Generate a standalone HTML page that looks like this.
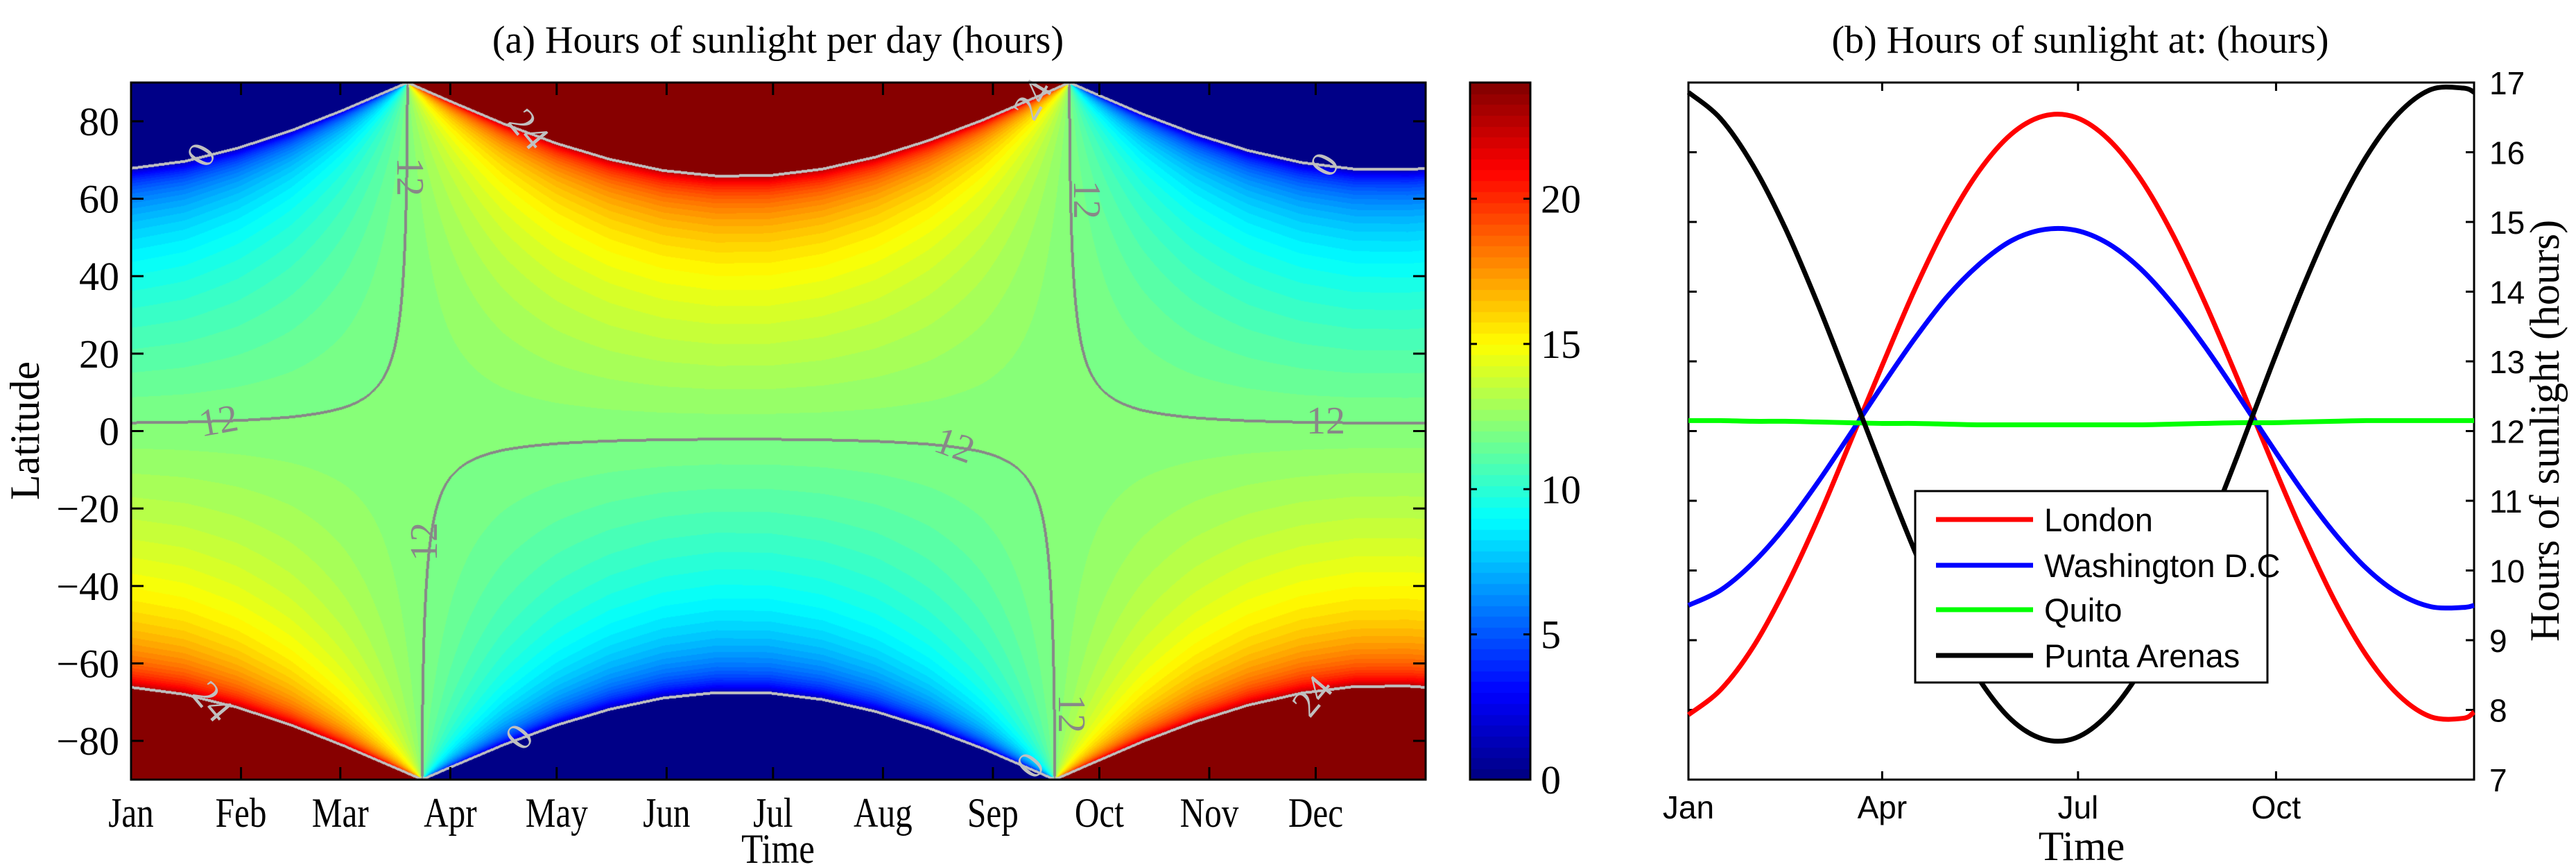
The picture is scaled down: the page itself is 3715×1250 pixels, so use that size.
<!DOCTYPE html>
<html><head><meta charset="utf-8"><style>
html,body{margin:0;padding:0;background:#fff;}
#wrap{position:relative;width:3715px;height:1250px;overflow:hidden;}
#heat{position:absolute;left:189px;top:119px;}
#cbar{position:absolute;left:2120px;top:119px;}
svg{position:absolute;left:0;top:0;}
.serif{font-family:"Liberation Serif",serif;}
.sans{font-family:"Liberation Sans",sans-serif;}
</style></head><body>
<div id="wrap">
<canvas id="heat" width="1867" height="1005"></canvas>
<canvas id="cbar" width="87" height="1005"></canvas>
<svg id="svg" width="3715" height="1250" xmlns="http://www.w3.org/2000/svg"></svg>
</div>
<script>
// ---- data ----
const sampleDays = [0,15,30,45,60,75,90,105,120,135,150,165,180,195,210,225,240,255,270,285,300,315,330,345,360,365];
const declination = [-23.0,-21.2,-17.8,-13.3,-7.9,-2.0,4.0,9.8,14.9,19.0,21.9,23.3,23.2,21.5,18.4,14.1,8.9,3.0,-3.0,-8.9,-14.1,-18.4,-21.5,-23.2,-23.3,-23.0];
const london = [7.93,8.29,8.90,9.74,10.73,11.83,12.94,14.02,14.97,15.73,16.26,16.52,16.50,16.19,15.62,14.82,13.84,12.76,11.64,10.56,9.58,8.78,8.21,7.90,7.88,7.97];
const washington = [9.50,9.72,10.11,10.63,11.26,11.95,12.65,13.32,13.92,14.39,14.73,14.89,14.88,14.69,14.33,13.82,13.21,12.53,11.83,11.15,10.54,10.03,9.67,9.48,9.47,9.50];
const quito = [12.15,12.15,12.14,12.14,12.13,12.12,12.11,12.11,12.10,12.09,12.09,12.09,12.09,12.09,12.09,12.10,12.11,12.12,12.12,12.13,12.14,12.15,12.15,12.15,12.15,12.15];
const puntaArenas = [16.86,16.48,15.81,14.91,13.83,12.65,11.45,10.29,9.26,8.44,7.86,7.58,7.60,7.94,8.56,9.42,10.47,11.64,12.86,14.03,15.08,15.94,16.56,16.90,16.92,16.86];
const monthLabels = ['Jan','Feb','Mar','Apr','May','Jun','Jul','Aug','Sep','Oct','Nov','Dec'];
const monthDays = [0,31,59,90,120,151,181,212,243,273,304,334];
const latTicks = [-80,-60,-40,-20,0,20,40,60,80];
const cbarTicks = [0,5,10,15,20];
const hoursTicks = [7,8,9,10,11,12,13,14,15,16,17];
const bMonthLabels = ['Jan','Apr','Jul','Oct'];
const bMonthDays = [0,90,181,273];

// ---- axes ----
const A = {l:189,r:2056,t:119,b:1124};
const B = {l:2435,r:3568,t:119,b:1124};
const ax = d => A.l + d/365*(A.r-A.l);
const ay = lat => A.t + (90-lat)/180*(A.b-A.t);
const bx = d => B.l + d/365*(B.r-B.l);
const by = h => B.t + (17-h)/10*(B.b-B.t);
const cy = v => A.t + (24-v)/24*(A.b-A.t);

function jet(t){
  const c=x=>Math.max(0,Math.min(1,x));
  return [c(1.5-Math.abs(4*t-3))*255,c(1.5-Math.abs(4*t-2))*255,c(1.5-Math.abs(4*t-1))*255];
}
function decAt(d){
  for(let i=0;i<sampleDays.length-1;i++){
    if(d<=sampleDays[i+1]){const f=(d-sampleDays[i])/(sampleDays[i+1]-sampleDays[i]);return declination[i]+f*(declination[i+1]-declination[i]);}
  }
  return declination[declination.length-1];
}
function dayLen(lat,dec){
  const r=Math.PI/180;
  let c=(Math.sin(-0.833*r)-Math.sin(lat*r)*Math.sin(dec*r))/(Math.cos(lat*r)*Math.cos(dec*r));
  c=Math.max(-1,Math.min(1,c));
  return 24/Math.PI*Math.acos(c);
}
// heatmap
(function(){
  const cv=document.getElementById('heat'),ctx=cv.getContext('2d');
  const W=cv.width,H=cv.height,img=ctx.createImageData(W,H),v=new Float32Array(W*H);
  for(let x=0;x<W;x++){const dec=decAt((x+0.5)/W*365);
    for(let y=0;y<H;y++){v[y*W+x]=dayLen(90-(y+0.5)/H*180,dec);}}
  const levels=[0.02,12,23.98];
  for(let y=0;y<H;y++)for(let x=0;x<W;x++){
    const i=y*W+x,h=v[i];let k=Math.min(63,Math.floor(h/24*64));
    let col=jet((k+0.5)/64);
    let line=false;
    for(const L of levels){
      const s=h>=L;
      for(let dd=1;dd<=2&&!line;dd++){
        if(x+dd<W&&(v[i+dd]>=L)!==s)line=true;
        if(y+dd<H&&(v[i+dd*W]>=L)!==s)line=true;
        if(x-dd>=0&&(v[i-dd]>=L)!==s)line=true;
        if(y-dd>=0&&(v[i-dd*W]>=L)!==s)line=true;
      }
    }
    if(line)col=Math.abs(h-12)<1?[136,136,136]:[192,192,192];
    img.data[i*4]=col[0];img.data[i*4+1]=col[1];img.data[i*4+2]=col[2];img.data[i*4+3]=255;
  }
  ctx.putImageData(img,0,0);
  const cb=document.getElementById('cbar').getContext('2d');
  for(let k=0;k<64;k++){const c=jet((k+0.5)/64);cb.fillStyle=`rgb(${c[0]|0},${c[1]|0},${c[2]|0})`;
    const y0=cy(k*24/64)-A.t,y1=cy((k+1)*24/64)-A.t;cb.fillRect(0,Math.floor(y1),87,Math.ceil(y0-y1)+1);}
})();

const svg=document.getElementById('svg');const NS='http://www.w3.org/2000/svg';
function el(tag,attrs,txt){const e=document.createElementNS(NS,tag);for(const k in attrs)e.setAttribute(k,attrs[k]);if(txt!==undefined)e.textContent=txt;svg.appendChild(e);return e;}

// titles
let e;
e=el('text',{x:1122,y:76,'font-size':56,'text-anchor':'middle',class:'serif'},'(a) Hours of sunlight per day (hours)');


e=el('text',{x:3000,y:76,'font-size':56,'text-anchor':'middle',class:'serif'},'(b) Hours of sunlight at: (hours)');



// contour labels (panel a)
const cl=[['0',295,226,-60],['24',758,190,50],['12',586,255,90],['24',1494,146,-60],['12',1562,288,90],['0',1915,240,-60],['12',316,612,-10],['12',1375,647,20],['12',1912,612,0],['12',617,781,-90],['24',302,1015,50],['0',753,1066,-50],['12',1540,1029,90],['0',1490,1107,-50],['24',1897,1007,-50]];
cl.forEach(c=>{e=el('text',{x:c[1],y:c[2],'font-size':56,'text-anchor':'middle','dominant-baseline':'middle',fill:c[0]==='12'?'#888':'#c0c0c0',class:'serif',transform:`rotate(${c[3]} ${c[1]} ${c[2]})`},c[0]);

});

// panel a frame & ticks
e=el('rect',{x:A.l,y:A.t,width:A.r-A.l,height:A.b-A.t,fill:'none',stroke:'#000','stroke-width':3});


monthDays.forEach((d,i)=>{const x=ax(d);
  e=el('line',{x1:x,x2:x,y1:A.b,y2:A.b-18,stroke:'#000','stroke-width':3});
  
  
  e=el('line',{x1:x,x2:x,y1:A.t,y2:A.t+18,stroke:'#000','stroke-width':3});
  
  
  e=el('text',{x:x,y:1192,'font-size':60,'text-anchor':'middle',class:'serif',transform:`translate(${x} 0) scale(0.82 1) translate(${-x} 0)`},monthLabels[i]);
  
  });
latTicks.forEach(t=>{const y=ay(t);
  e=el('line',{x1:A.l,x2:A.l+18,y1:y,y2:y,stroke:'#000','stroke-width':3});
  
  
  e=el('line',{x1:A.r,x2:A.r-18,y1:y,y2:y,stroke:'#000','stroke-width':3});
  
  
  e=el('text',{x:172,y:y+20,'font-size':58,'text-anchor':'end',class:'serif'},(t<0?'\u2212':'')+Math.abs(t));
  
  });
e=el('text',{x:1122,y:1244,'font-size':60,'text-anchor':'middle',class:'serif',transform:'translate(1122 0) scale(0.85 1) translate(-1122 0)'},'Time');


e=el('text',{x:56,y:621,'font-size':60,'text-anchor':'middle',class:'serif',transform:'rotate(-90 56 621)'},'Latitude');



// colorbar frame & ticks
e=el('rect',{x:2120,y:A.t,width:87,height:A.b-A.t,fill:'none',stroke:'#000','stroke-width':3});


cbarTicks.forEach(t=>{const y=cy(t);
  e=el('line',{x1:2120,x2:2130,y1:y,y2:y,stroke:'#000','stroke-width':3});
  
  
  e=el('line',{x1:2207,x2:2197,y1:y,y2:y,stroke:'#000','stroke-width':3});
  
  
  e=el('text',{x:2222,y:y+20,'font-size':58,class:'serif'},String(t));
  
  });

// panel b
e=el('rect',{x:B.l,y:B.t,width:B.r-B.l,height:B.b-B.t,fill:'#fff',stroke:'#000','stroke-width':3});


bMonthDays.forEach((d,i)=>{const x=bx(d);
  e=el('line',{x1:x,x2:x,y1:B.b,y2:B.b-12,stroke:'#000','stroke-width':3});
  
  
  e=el('line',{x1:x,x2:x,y1:B.t,y2:B.t+12,stroke:'#000','stroke-width':3});
  
  
  e=el('text',{x:x,y:1180,'font-size':46,'text-anchor':'middle',class:'sans'},bMonthLabels[i]);
  
  });
hoursTicks.forEach(t=>{const y=by(t);
  e=el('line',{x1:B.l,x2:B.l+12,y1:y,y2:y,stroke:'#000','stroke-width':3});
  
  
  e=el('line',{x1:B.r,x2:B.r-12,y1:y,y2:y,stroke:'#000','stroke-width':3});
  
  
  e=el('text',{x:3590,y:y+17,'font-size':46,class:'sans'},String(t));
  
  });
e=el('text',{x:3002,y:1240,'font-size':60,'text-anchor':'middle',class:'serif'},'Time');


e=el('text',{x:3690,y:621,'font-size':60,'text-anchor':'middle',class:'serif',transform:'rotate(-90 3690 621)'},'Hours of sunlight (hours)');



function smoothPath(xs,ys){
  const p=xs.map((d,i)=>[bx(d),by(ys[i])]);let s=`M${p[0][0]},${p[0][1]}`;
  for(let i=0;i<p.length-1;i++){const p0=p[Math.max(0,i-1)],p1=p[i],p2=p[i+1],p3=p[Math.min(p.length-1,i+2)];
    const c1=[p1[0]+(p2[0]-p0[0])/6,p1[1]+(p2[1]-p0[1])/6],c2=[p2[0]-(p3[0]-p1[0])/6,p2[1]-(p3[1]-p1[1])/6];
    s+=` C${c1[0]},${c1[1]} ${c2[0]},${c2[1]} ${p2[0]},${p2[1]}`;}
  return s;
}
const series=[['london',london,'#ff0000','London'],['washington',washington,'#0000ff','Washington D.C'],['quito',quito,'#00ff00','Quito'],['punta-arenas',puntaArenas,'#000000','Punta Arenas']];
series.forEach(s=>{e=el('path',{d:smoothPath(sampleDays,s[1]),fill:'none',stroke:s[2],'stroke-width':7});
  
  });

// legend
e=el('rect',{x:2762,y:708,width:508,height:276,fill:'#fff',stroke:'#000','stroke-width':3});


const legY=[749,815,879,945];
series.forEach((s,i)=>{
  e=el('line',{x1:2792,x2:2932,y1:legY[i],y2:legY[i],stroke:s[2],'stroke-width':7});
  
  
  e=el('text',{x:2948,y:legY[i]+17,'font-size':47,class:'sans'},s[3]);
  
  });
</script>
</body></html>
